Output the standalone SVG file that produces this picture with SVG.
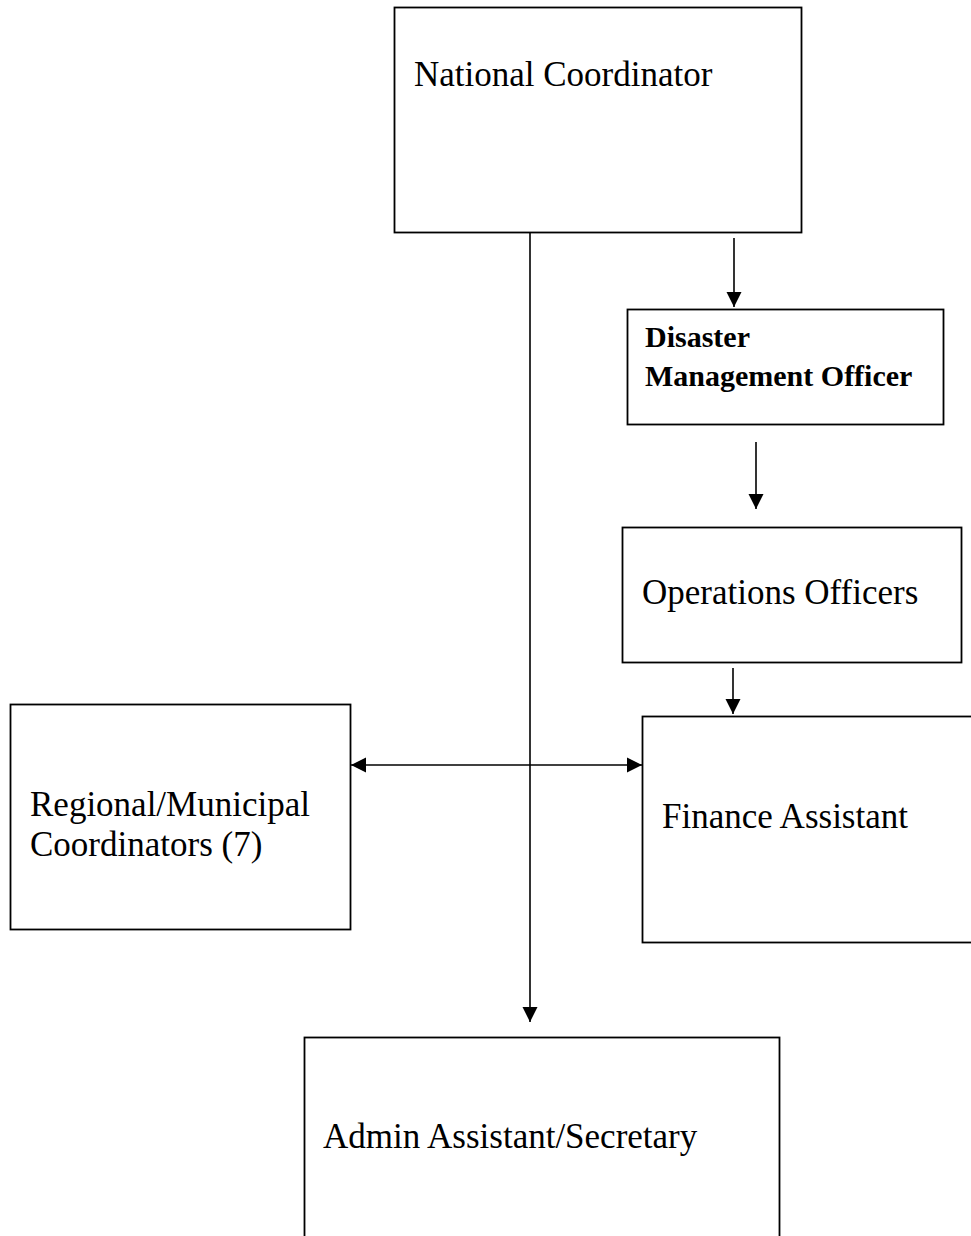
<svg xmlns="http://www.w3.org/2000/svg" width="971" height="1236" viewBox="0 0 971 1236">
<style>
.box{fill:#fff;stroke:#000;stroke-width:1.8}
.t{font-family:"Liberation Serif","Times New Roman",serif;font-size:35px;fill:#000}
.b{font-family:"Liberation Serif","Times New Roman",serif;font-size:30px;font-weight:bold;fill:#000}
.c{stroke:#000;stroke-width:1.6;fill:none}
</style>
<defs>
<marker id="ahs" markerWidth="16" markerHeight="16" refX="15" refY="8" orient="auto-start-reverse" markerUnits="userSpaceOnUse" viewBox="0 0 16 16">
<path d="M0,0.5 L15,8 L0,15.5 z" fill="#000"/>
</marker>
</defs>
<g id="connectors">
<line class="c" x1="530" y1="232" x2="530" y2="1022" marker-end="url(#ahs)"/>
<line class="c" x1="734" y1="238" x2="734" y2="307" marker-end="url(#ahs)"/>
<line class="c" x1="756" y1="442" x2="756" y2="509" marker-end="url(#ahs)"/>
<line class="c" x1="733" y1="668" x2="733" y2="714" marker-end="url(#ahs)"/>
<line class="c" x1="351" y1="765" x2="642" y2="765" marker-start="url(#ahs)" marker-end="url(#ahs)"/>
</g>
<g id="national">
<rect class="box" x="394.5" y="7.5" width="407" height="225"/>
<text class="t" x="414" y="86">National Coordinator</text>
</g>
<g id="dmo">
<rect class="box" x="627.5" y="309.5" width="316" height="115"/>
<text class="b" x="645" y="347">Disaster</text>
<text class="b" x="645" y="386">Management Officer</text>
</g>
<g id="ops">
<rect class="box" x="622.5" y="527.5" width="339" height="135"/>
<text class="t" x="642" y="604">Operations Officers</text>
</g>
<g id="finance">
<rect class="box" x="642.5" y="716.5" width="340" height="226"/>
<text class="t" x="662" y="828">Finance Assistant</text>
</g>
<g id="regional">
<rect class="box" x="10.5" y="704.5" width="340" height="225"/>
<text class="t" x="30" y="816">Regional/Municipal</text>
<text class="t" x="30" y="856">Coordinators (7)</text>
</g>
<g id="admin">
<rect class="box" x="304.5" y="1037.5" width="475" height="220"/>
<text class="t" x="323" y="1148">Admin Assistant/Secretary</text>
</g>
</svg>
